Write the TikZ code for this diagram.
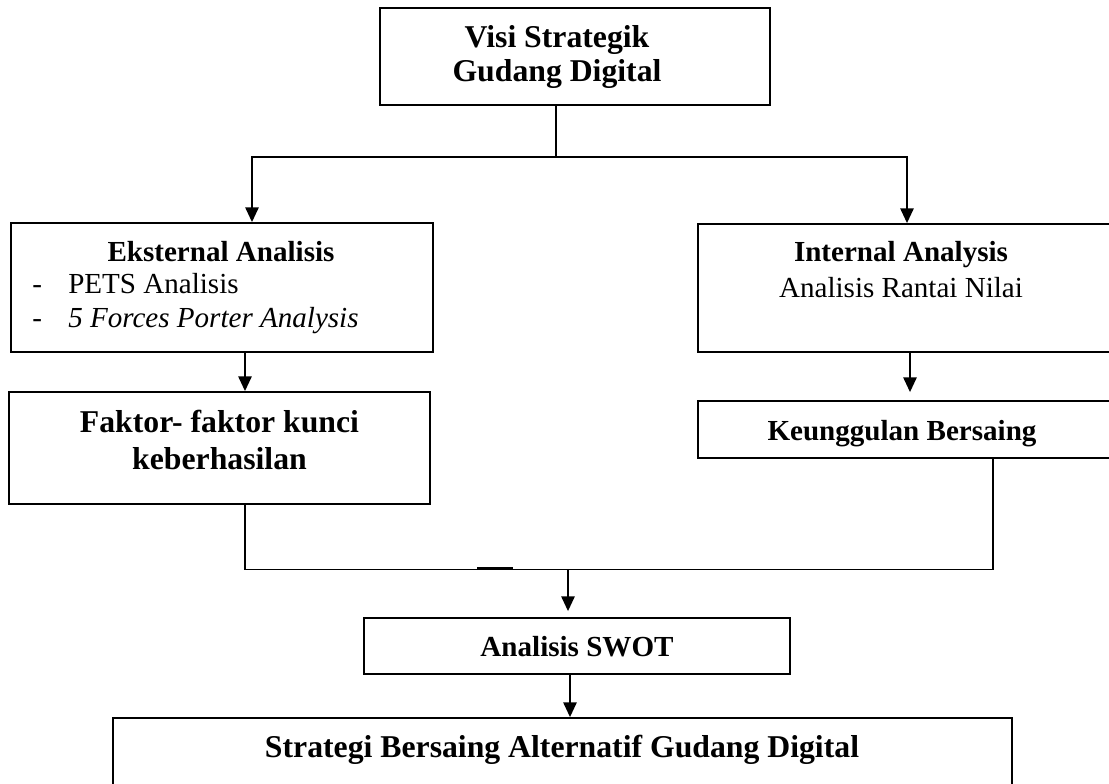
\documentclass[tikz,border=0pt]{standalone}
\usepackage{fontspec}
\setmainfont{Liberation Serif}
\usetikzlibrary{arrows.meta,fit}

\tikzset{
  kotak/.style={draw, line width=1.4pt, inner sep=0pt},
  garis/.style={line width=1.2pt},
  panah/.style={garis, -{Triangle[width=10pt,length=11pt]}},
  teksbesar/.style={font=\fontsize{23.8}{25}\selectfont\bfseries, anchor=base, inner sep=0pt},
  teksjudul/.style={font=\fontsize{21.8}{24}\selectfont\bfseries, anchor=base, inner sep=0pt},
  teksisi/.style={font=\fontsize{21.8}{24}\selectfont, anchor=base, inner sep=0pt},
}

\begin{document}
\begin{tikzpicture}[x=0.75pt,y=0.75pt,yscale=-1]
%set diagram to 1109 x 784
\useasboundingbox (0,0) rectangle (1109,784);
\clip (0,0) rectangle (1109,784);

%Shape: Rectangles
\node[kotak, fit={(380,8) (770,105)}] (visi) {};
\node[kotak, fit={(11,223) (433,352)}] (eks) {};
\node[kotak, fit={(9,392) (430,504)}] (faktor) {};
\node[kotak, fit={(698,224) (1112,352)}] (int) {};
\node[kotak, fit={(698,401) (1112,458)}] (keu) {};
\node[kotak, fit={(364,618) (790,674)}] (swot) {};
\node[kotak, fit={(113,718) (1012,790)}] (strat) {};

%Coordinates for the connectors
\coordinate (cabang) at (556,157);
\coordinate (kiri) at (252,157);
\coordinate (kanan) at (907,157);
\coordinate (xa) at (245,0);
\coordinate (xb) at (910,0);
\coordinate (xc) at (993,0);
\coordinate (xd) at (570,0);
\coordinate (temu) at (568,569.5);
\coordinate (tebal1) at (477,568.5);
\coordinate (tebal2) at (513,568.5);

%Straight Lines
\draw[garis] (visi.south -| cabang) -- (cabang);
\draw[panah] (cabang) -| (kiri |- eks.north);
\draw[panah] (cabang) -| (kanan |- int.north);
\draw[panah] (eks.south -| xa) -- (xa |- faktor.north);
\draw[panah, shorten >=6pt] (int.south -| xb) -- (xb |- keu.north);
\draw[garis] (faktor.south -| xa) |- (temu);
\draw[garis] (keu.south -| xc) |- (temu);
\draw[line width=2.2pt] (tebal1) -- (tebal2);
\draw[panah, shorten >=4.5pt] (temu) -- (temu |- swot.north);
\draw[panah] (swot.south -| xd) -- (xd |- strat.north);

% Text Node
\node[teksbesar] (visi1) at (557,48) {Visi Strategik};
\node[teksbesar] (visi2) at (557,82) {Gudang Digital};
% Text Node
\node[teksjudul] (eksjudul) at (221,262) {Eksternal Analisis};
\node[teksisi, anchor=base west] (strip1) at (32,293) {-};
\node[teksisi, anchor=base west] (pets) at (68,293) {PETS Analisis};
\node[teksisi, anchor=base west] (strip2) at (32,327) {-};
\node[teksisi, anchor=base west] (porter) at (68,327) {\itshape 5 Forces Porter Analysis};
% Text Node
\node[teksbesar] (faktor1) at (219.5,432) {Faktor- faktor kunci};
\node[teksbesar] (faktor2) at (219.5,469) {keberhasilan};
% Text Node
\node[teksjudul] (intjudul) at (901,262) {Internal Analysis};
\node[teksisi] (rantai) at (901,297) {Analisis Rantai Nilai};
% Text Node
\node[teksjudul] (keutks) at (902,440) {Keunggulan Bersaing};
\node[teksjudul] (swottks) at (577,656) {Analisis SWOT};
\node[teksbesar] (strattks) at (562,757) {Strategi Bersaing Alternatif Gudang Digital};

\end{tikzpicture}
\end{document}
